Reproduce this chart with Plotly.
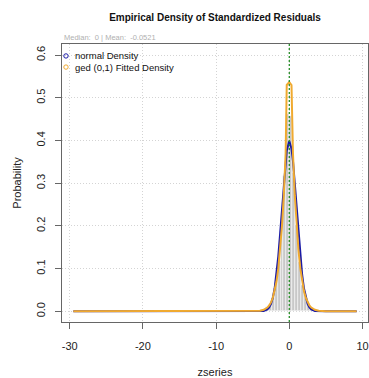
import plotly.graph_objects as go

# ---- data ----
curve_x = [-29.5, -20, -10, -6, -5, -4.5, -4, -3.5, -3, -2.75, -2.5, -2.25, -2, -1.75, -1.5, -1.25, -1, -0.75, -0.5, -0.35,
           0,
           0.3, 0.5, 0.75, 1, 1.25, 1.5, 1.75, 2, 2.25, 2.5, 2.75, 3, 3.5, 4, 4.5, 5, 6, 9.2]
normal_density = [0, 0, 0, 0, 0, 0, 0.0001, 0.0009, 0.0044, 0.0091, 0.0175, 0.0317, 0.054, 0.0863, 0.1295, 0.1826, 0.242, 0.3011, 0.3521, 0.376,
                  0.3989,
                  0.381, 0.3521, 0.3011, 0.242, 0.1826, 0.1295, 0.0863, 0.054, 0.0317, 0.0175, 0.0091, 0.0044, 0.0009, 0.0001, 0, 0, 0, 0]
ged_density = [0, 0, 0, 0.00002, 0.0002, 0.0005, 0.0014, 0.0035, 0.0088, 0.0137, 0.0209, 0.0317, 0.0474, 0.0697, 0.101, 0.1436, 0.200, 0.272, 0.37, 0.53,
               0.537,
               0.53, 0.37, 0.272, 0.200, 0.1436, 0.101, 0.0697, 0.0474, 0.0317, 0.0209, 0.0137, 0.0088, 0.0035, 0.0014, 0.0005, 0.0002, 0.00002, 0]
hist_centers = [-4.2, -3.8, -3.4, -3.0, -2.6, -2.2, -1.8, -1.4, -1.0, -0.6, -0.2,
                0.2, 0.6, 1.0, 1.4, 1.8, 2.2, 2.6, 3.0, 3.4, 3.8, 4.2]
hist_heights = [0.001, 0.002, 0.004, 0.009, 0.018, 0.035, 0.066, 0.118, 0.198, 0.318, 0.462,
                0.458, 0.325, 0.203, 0.115, 0.062, 0.033, 0.017, 0.008, 0.004, 0.002, 0.001]
median_value = 0
mean_value = -0.0521
x_ticks = [-30, -20, -10, 0, 10]
y_ticks = [0.0, 0.1, 0.2, 0.3, 0.4, 0.5, 0.6]
legend_labels = ["normal Density", "ged (0,1) Fitted Density"]

BLUE = "#1a1aa6"
ORANGE = "#f0aa30"
FONT = "Liberation Sans, Arial, sans-serif"

fig = go.Figure()
fig.add_trace(go.Bar(x=hist_centers, y=hist_heights, width=0.4,
                     marker=dict(color="#c8c8c8", line=dict(color="white", width=0.5)),
                     showlegend=False))
fig.add_trace(go.Scatter(x=curve_x, y=normal_density, mode="lines",
                         line=dict(color=BLUE, width=2), showlegend=False))
fig.add_trace(go.Scatter(x=curve_x, y=ged_density, mode="lines",
                         line=dict(color=ORANGE, width=2), showlegend=False))
fig.add_trace(go.Scatter(x=[median_value, median_value], y=[-0.025, 0.626], mode="lines",
                         line=dict(color="#2a8f2a", width=1.3, dash="2px,2px"), showlegend=False))

# legend (R-style, drawn inside the plot)
leg_y = [0.957, 0.917]
for lab, col, yy in zip(legend_labels, [BLUE, ORANGE], leg_y):
    fig.add_shape(type="circle", xref="paper", yref="paper",
                  xsizemode="pixel", ysizemode="pixel",
                  xanchor=0.013, yanchor=yy, x0=-2.2, x1=2.2, y0=-2.2, y1=2.2,
                  line=dict(color=col, width=1))
    fig.add_annotation(text=lab, xref="paper", yref="paper", x=0.036, y=yy,
                       xanchor="left", yanchor="middle", showarrow=False,
                       font=dict(size=9.5, color="#111", family=FONT))

fig.add_annotation(text=f"Median:  {median_value} | Mean:  {mean_value}", xref="paper", yref="paper",
                   x=0.0, y=1.022, xanchor="left", yanchor="middle", showarrow=False,
                   font=dict(size=7.5, color="#b0b0b0", family=FONT))

fig.update_layout(
    width=369, height=378,
    margin=dict(l=62, r=1, t=44, b=56),
    paper_bgcolor="white", plot_bgcolor="white",
    font=dict(family=FONT, color="#222"),
    title=dict(text="<b>Empirical Density of Standardized Residuals</b>",
               x=0.5, xref="paper", y=1 - 17 / 378, yref="container", yanchor="middle",
               font=dict(size=10, color="#111", family=FONT)),
    bargap=0,
    showlegend=False,
)
fig.update_xaxes(range=[-31.05, 10.75], tickvals=x_ticks, ticktext=[str(v) for v in x_ticks],
                 showgrid=True, gridcolor="#d4d4d4", griddash="1px,2px", gridwidth=1,
                 zeroline=False, showline=True, mirror=True, linecolor="#666", linewidth=1,
                 ticks="outside", ticklen=6, tickcolor="#666", ticklabelstandoff=8,
                 tickfont=dict(size=11, color="#222"),
                 title=dict(text="zseries", font=dict(size=11, color="#222"), standoff=17))
fig.update_yaxes(range=[-0.025, 0.626], tickvals=y_ticks, ticktext=[f"{v:.1f}" for v in y_ticks],
                 showgrid=True, gridcolor="#d4d4d4", griddash="1px,2px", gridwidth=1,
                 zeroline=False, showline=True, mirror=True, linecolor="#666", linewidth=1,
                 ticks="outside", ticklen=6, tickcolor="#666", tickangle=-90, ticklabelstandoff=6,
                 tickfont=dict(size=11, color="#222"),
                 title=dict(text="Probability", font=dict(size=11, color="#222"), standoff=10))

fig.write_html("out.html")
